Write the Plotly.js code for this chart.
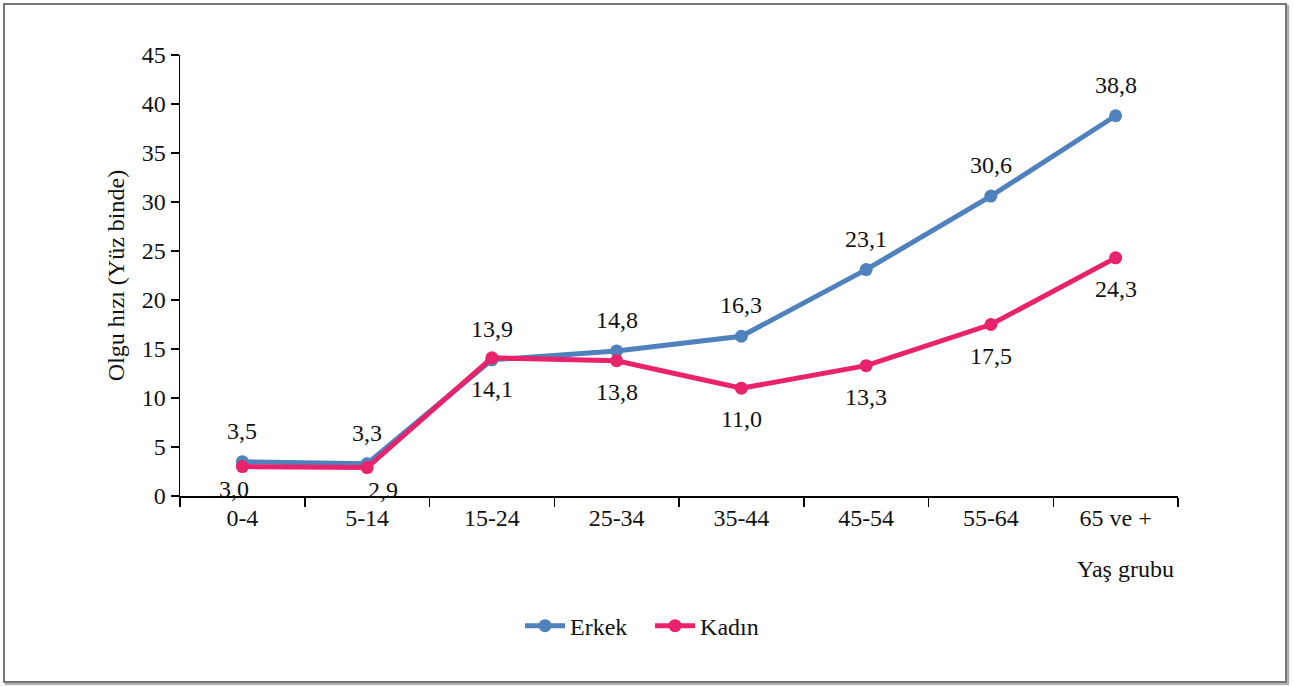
<!DOCTYPE html>
<html>
<head>
<meta charset="utf-8">
<script src="https://cdn.plot.ly/plotly-3.0.1.min.js"></script>
<style>
html,body{margin:0;padding:0;background:#fff;}
#wrap{position:relative;width:1294px;height:686px;}
#chart{position:absolute;left:0;top:0;width:1294px;height:686px;}
#frame{position:absolute;left:3px;top:3px;width:1280px;height:676px;border:2px solid #767676;box-shadow:2px 2px 1px #b0b0b0;pointer-events:none;}
</style>
</head>
<body>
<div id="wrap"><div id="chart"></div><div id="frame"></div></div>
<script>
const categories = ["0-4","5-14","15-24","25-34","35-44","45-54","55-64","65 ve +"];
const erkek = [3.5,3.3,13.9,14.8,16.3,23.1,30.6,38.8];
const kadin = [3.0,2.9,14.1,13.8,11.0,13.3,17.5,24.3];
const seriesNames = ["Erkek","Kadın"];

const blue = "#4F81BD", pink = "#E8236B";
const font = {family:"Liberation Serif, Times New Roman, serif", size:24, color:"#111"};

const traces = [
  {x:categories, y:erkek, name:seriesNames[0], type:"scatter", mode:"lines+markers",
   line:{color:blue,width:5}, marker:{color:blue,size:13}},
  {x:categories, y:kadin, name:seriesNames[1], type:"scatter", mode:"lines+markers",
   line:{color:pink,width:5}, marker:{color:pink,size:13}}
];

const fmt = v => v.toFixed(1).replace(".", ",");
const annotations = [];
categories.forEach((c,i)=>{
  annotations.push({x:c, y:erkek[i], xref:"x", yref:"y", text:fmt(erkek[i]), showarrow:false, yshift:31, font:font});
  let xs = 0;
  if (i===0) xs = -8;
  if (i===1) xs = 16;
  annotations.push({x:c, y:kadin[i], xref:"x", yref:"y", text:fmt(kadin[i]), showarrow:false, yshift:(i<2?-22:-31), xshift:xs, font:font});
});
annotations.push({x:1, y:-0.165, xref:"paper", yref:"paper", xanchor:"right", yanchor:"middle", xshift:-2, text:"Yaş grubu", showarrow:false, font:font});

const layout = {
  width:1294, height:686,
  margin:{l:180, r:116, t:55, b:190},
  paper_bgcolor:"rgba(0,0,0,0)", plot_bgcolor:"rgba(0,0,0,0)",
  font:font,
  separators:",.",
  showlegend:true,
  legend:{orientation:"h", x:0.471, xanchor:"center", y:-0.295, yanchor:"middle", font:font, itemwidth:40, entrywidth:75},
  xaxis:{type:"category", range:[-0.5,7.5], showline:true, linecolor:"#000", linewidth:1.5,
    ticks:"outside", tickson:"boundaries", ticklen:9, tickcolor:"#000", tickwidth:1.5,
    showgrid:false, zeroline:false, tickfont:font},
  yaxis:{range:[0,45], dtick:5, showline:true, linecolor:"#000", linewidth:1.5,
    ticks:"outside", ticklen:8, tickcolor:"#000", tickwidth:1.5, showgrid:false, zeroline:false,
    tickfont:font, title:{text:"Olgu hızı (Yüz binde)", font:font, standoff:10}},
  annotations:annotations
};
Plotly.newPlot("chart", traces, layout, {displayModeBar:false, staticPlot:true});
</script>
</body>
</html>
